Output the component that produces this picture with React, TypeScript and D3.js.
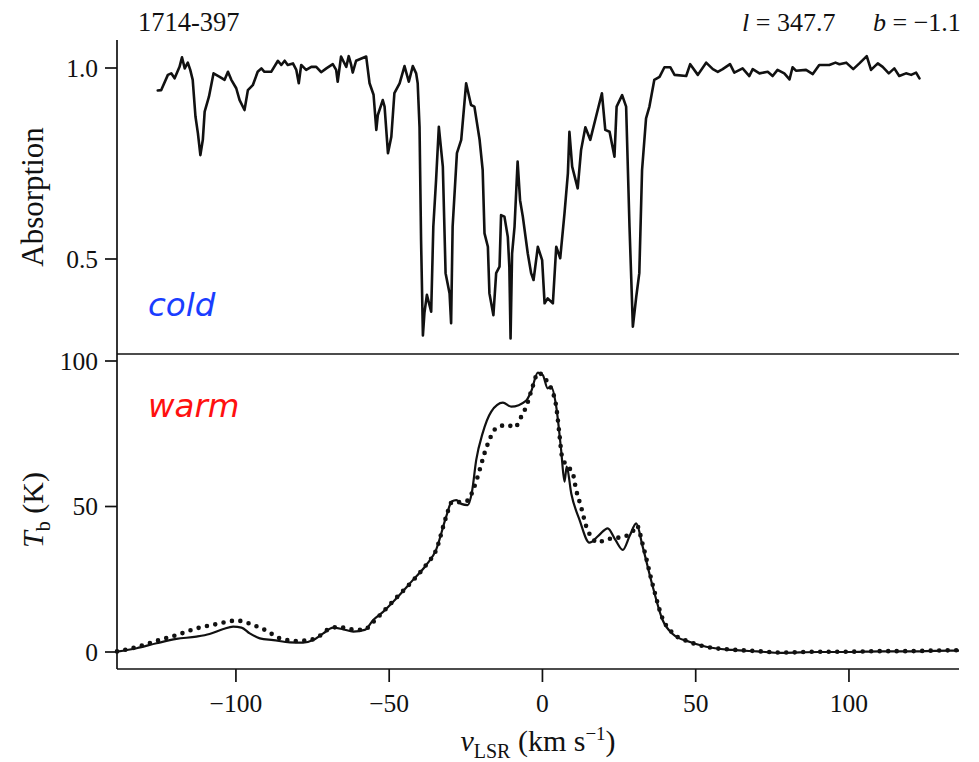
import React from "react";
import * as d3 from "d3";

// Absorption (cold gas) profile: [velocity km/s, absorption]
const absorptionProfile: [number, number][] = [
  [-125.5, 0.941], [-124.4, 0.942], [-122.2, 0.982], [-121.1, 0.986], [-120.0, 0.973],
  [-118.4, 1.003], [-117.6, 1.028], [-116.7, 0.999], [-115.7, 1.014], [-114.9, 0.995],
  [-114.1, 0.969], [-113.2, 0.873], [-112.4, 0.829], [-111.6, 0.772], [-110.8, 0.812],
  [-110.2, 0.886], [-108.8, 0.925], [-107.3, 0.986], [-105.3, 0.977], [-103.7, 0.969],
  [-102.6, 0.99], [-101.5, 0.969], [-99.9, 0.947], [-98.8, 0.916], [-97.2, 0.89],
  [-96.1, 0.942], [-94.5, 0.955], [-92.9, 0.99], [-91.7, 0.999], [-90.7, 0.99],
  [-88.5, 0.99], [-86.3, 1.019], [-85.2, 1.008], [-84.1, 1.019], [-83.1, 1.008],
  [-81.4, 1.012], [-80.3, 0.995], [-79.5, 0.96], [-78.7, 1.008], [-77.1, 0.995],
  [-75.4, 1.003], [-73.8, 1.003], [-72.2, 0.989], [-70.5, 0.999], [-68.4, 1.01],
  [-67.3, 0.995], [-66.8, 0.964], [-65.7, 1.03], [-64.9, 1.017], [-64.0, 1.003],
  [-63.2, 1.031], [-62.4, 1.008], [-61.9, 0.988], [-60.8, 1.019], [-57.5, 1.03],
  [-56.4, 0.96], [-55.1, 0.93], [-54.2, 0.838], [-53.7, 0.877], [-52.1, 0.916],
  [-51.5, 0.899], [-50.4, 0.777], [-49.3, 0.82], [-48.3, 0.934], [-46.6, 0.96],
  [-45.0, 1.005], [-43.6, 0.964], [-42.3, 1.005], [-41.2, 0.986], [-40.7, 0.96],
  [-40.1, 0.846], [-39.6, 0.55], [-39.0, 0.30], [-38.5, 0.359], [-37.7, 0.406],
  [-36.3, 0.362], [-35.6, 0.585], [-34.7, 0.707], [-33.8, 0.846], [-32.5, 0.742],
  [-31.6, 0.463], [-30.3, 0.41], [-29.8, 0.332], [-29.3, 0.585], [-27.9, 0.777],
  [-26.5, 0.812], [-24.9, 0.96], [-23.3, 0.903], [-22.2, 0.899], [-20.5, 0.812],
  [-19.5, 0.733], [-18.9, 0.567], [-17.8, 0.532], [-17.3, 0.41], [-16.0, 0.353],
  [-15.1, 0.463], [-14.0, 0.48], [-13.5, 0.615], [-12.4, 0.611], [-11.3, 0.558],
  [-10.8, 0.48], [-10.4, 0.292], [-9.9, 0.515], [-9.1, 0.585], [-8.1, 0.755],
  [-7.3, 0.654], [-6.4, 0.611], [-4.8, 0.515], [-3.7, 0.463], [-2.9, 0.445],
  [-1.5, 0.532], [-0.1, 0.497], [0.7, 0.384], [1.7, 0.397], [3.4, 0.384],
  [4.5, 0.532], [5.8, 0.502], [7.2, 0.62], [8.3, 0.724], [8.8, 0.833],
  [9.7, 0.742], [11.5, 0.685], [12.6, 0.785], [14.0, 0.845], [15.6, 0.812],
  [17.5, 0.873], [19.4, 0.934], [20.5, 0.838], [21.9, 0.833], [23.5, 0.768],
  [24.2, 0.899], [26.0, 0.929], [27.3, 0.899], [28.4, 0.585], [29.5, 0.323],
  [30.6, 0.401], [31.6, 0.463], [32.5, 0.733], [33.8, 0.868], [34.9, 0.899],
  [36.5, 0.969], [38.2, 0.977], [39.8, 1.002], [41.7, 1.002], [43.1, 0.982],
  [46.9, 0.979], [48.2, 1.01], [50.7, 0.982], [53.4, 1.014], [55.6, 0.997],
  [57.2, 0.99], [58.8, 0.997], [61.2, 1.01], [62.6, 0.988], [65.3, 0.999],
  [67.5, 0.979], [68.6, 0.997], [70.8, 0.986], [73.5, 0.99], [75.1, 0.979],
  [76.7, 0.995], [78.9, 0.986], [80.6, 0.97], [81.6, 1.002], [82.7, 0.993],
  [86.0, 0.995], [88.2, 0.984], [90.3, 1.008], [93.6, 1.008], [95.6, 1.014],
  [96.9, 1.01], [99.1, 1.014], [101.4, 0.997], [103.4, 1.012], [105.8, 1.031],
  [107.2, 0.995], [109.4, 1.012], [111.0, 1.003], [113.0, 0.986], [114.8, 0.999],
  [116.4, 0.979], [118.6, 0.986], [120.3, 0.982], [121.9, 0.988], [123.0, 0.973],
];

// Emission (warm gas) brightness temperature, observed (solid)
const emissionObserved: [number, number][] = [
  [-138.8, 0.1], [-132.4, 1.3], [-125.9, 3.0], [-119.4, 4.5], [-112.9, 5.3],
  [-108.6, 6.2], [-104.1, 7.9], [-100.9, 8.7], [-98.2, 8.4], [-95.5, 6.4],
  [-92.2, 4.7], [-87.8, 4.1], [-82.4, 3.3], [-78.1, 3.2], [-74.8, 4.1],
  [-71.5, 6.4], [-68.3, 8.4], [-65.0, 7.8], [-61.7, 7.0], [-58.0, 7.6],
  [-55.2, 11.0], [-52.0, 13.8], [-47.7, 18.4], [-42.3, 24.7], [-37.9, 29.9],
  [-34.7, 35.1], [-31.4, 46.5], [-29.6, 51.7], [-28.1, 52.2], [-26.5, 50.9],
  [-24.4, 50.5], [-23.0, 55.0], [-21.6, 66.0], [-19.5, 75.2], [-16.7, 82.6],
  [-12.9, 85.7], [-10.2, 84.3], [-5.3, 86.4], [-3.7, 89.5], [-1.5, 96.0],
  [0.1, 95.2], [1.7, 90.6], [2.8, 91.2], [4.5, 84.3], [6.1, 69.4],
  [7.2, 58.5], [7.9, 63.7], [9.4, 54.5], [12.1, 45.4], [15.3, 37.6],
  [18.3, 40.0], [21.3, 42.5], [23.8, 38.5], [26.2, 35.1], [28.5, 40.0],
  [30.6, 44.2], [32.7, 36.2], [36.0, 22.4], [39.2, 11.0], [42.5, 6.2],
  [47.9, 3.5], [53.4, 1.8], [62, 0.7], [70, 0.2], [78, -0.3],
  [90, 0.0], [100, 0.0], [110, 0.2], [120, 0.2], [128, 0.4], [135.9, 0.5],
];

// Emission comparison profile (dotted)
const emissionDotted: [number, number][] = [
  [-138.8, 0.2], [-132, 1.8], [-126, 3.8], [-119.4, 5.8], [-112.9, 8.1],
  [-106.3, 9.6], [-99.8, 10.8], [-94.4, 9.3], [-90.0, 7.3], [-85.7, 4.7],
  [-80.2, 3.8], [-75.9, 4.1], [-72, 6.0], [-69.4, 8.1], [-66, 8.6],
  [-62.8, 7.8], [-58.4, 7.6], [-55, 10.5], [-52, 13.8], [-47.7, 18.6],
  [-42.3, 24.5], [-37.9, 30.0], [-34.7, 35.0], [-31.4, 46.5], [-29.5, 51.5],
  [-27, 51.5], [-24.5, 52.0], [-22.5, 56.0], [-20.5, 62.5], [-18.9, 68.3],
  [-17.3, 72.9], [-15.7, 76.3], [-13.5, 77.7], [-11.3, 78.0], [-9.1, 77.1],
  [-6.9, 80.9], [-5.3, 84.3], [-3.2, 91.2], [-1.4, 96.0], [0.7, 94.1],
  [2.8, 90.6], [4.5, 84.3], [5.5, 75.2], [6.4, 67.1], [8.3, 63.7],
  [9.9, 61.4], [11.0, 55.7], [12.6, 49.9], [14.3, 43.1], [16, 39.5],
  [18.0, 37.6], [20.7, 38.7], [23, 39.0], [25.3, 39.4], [27.5, 40.0],
  [29.5, 41.5], [30.8, 43.5], [32.7, 37.0], [36, 23.0], [39.2, 11.5],
  [42.5, 6.5], [47.9, 3.5], [53.4, 1.8], [62, 0.8], [70, 0.3],
  [78, -0.2], [90, 0.1], [100, 0.1], [110, 0.3], [120, 0.3], [128, 0.5], [135.9, 0.6],
];

const xTicks = [-100, -50, 0, 50, 100];
const absTicks = [0.5, 1.0];
const tbTicks = [0, 50, 100];

const SERIF = "'Liberation Serif', 'Times New Roman', serif";
const SANS = "'DejaVu Sans', Verdana, sans-serif";
const INK = "#111";

export default function App() {
  const x = d3.scaleLinear().domain([-138.8, 135.9]).range([117, 959]);
  const yTop = d3.scaleLinear().domain([0.5, 1.0]).range([259, 68]);
  const yBot = d3.scaleLinear().domain([0, 100]).range([652, 361]);

  const absLine = d3
    .line<[number, number]>()
    .x((d) => x(d[0]))
    .y((d) => yTop(d[1]))
    .curve(d3.curveLinear);
  const tbLine = d3
    .line<[number, number]>()
    .x((d) => x(d[0]))
    .y((d) => yBot(d[1]))
    .curve(d3.curveMonotoneX);

  const left = x.range()[0];
  const right = x.range()[1];
  const dividerY = 354;
  const bottomY = 669;
  const fmtX = (v: number) => (v < 0 ? "\u2212" + Math.abs(v) : String(v));

  return (
    <svg
      width={979}
      height={762}
      style={{ position: "absolute", left: 0, top: 0, background: "#fff" }}
    >
      <rect x={0} y={0} width={979} height={762} fill="#fff" />
      {/* header texts */}
      <text x={138} y={31} fontFamily={SERIF} fontSize={26.5} fill={INK}>
        1714-397
      </text>
      <text x={742} y={31} fontFamily={SERIF} fontSize={26} fill={INK}>
        <tspan fontStyle="italic">l</tspan>
        <tspan> = 347.7</tspan>
      </text>
      <text x={873} y={31} fontFamily={SERIF} fontSize={26} fill={INK}>
        <tspan fontStyle="italic">b</tspan>
        <tspan> = {"\u2212"}1.1</tspan>
      </text>

      {/* axes frame */}
      <line x1={left} x2={left} y1={40} y2={bottomY} stroke={INK} strokeWidth={1.7} />
      <line x1={left} x2={right} y1={dividerY} y2={dividerY} stroke={INK} strokeWidth={1.7} />
      <line x1={left} x2={right} y1={bottomY} y2={bottomY} stroke={INK} strokeWidth={1.7} />

      {/* top y ticks */}
      {absTicks.map((t) => (
        <g key={"a" + t}>
          <line x1={left - 12} x2={left} y1={yTop(t)} y2={yTop(t)} stroke={INK} strokeWidth={1.7} />
          <text x={98} y={yTop(t)} dy="0.35em" textAnchor="end" fontFamily={SERIF} fontSize={25.5} fill={INK}>
            {d3.format(".1f")(t)}
          </text>
        </g>
      ))}
      {/* bottom y ticks */}
      {tbTicks.map((t) => (
        <g key={"b" + t}>
          <line x1={left - 12} x2={left} y1={yBot(t)} y2={yBot(t)} stroke={INK} strokeWidth={1.7} />
          <text x={98} y={yBot(t)} dy="0.35em" textAnchor="end" fontFamily={SERIF} fontSize={25.5} fill={INK}>
            {t}
          </text>
        </g>
      ))}
      {/* x ticks */}
      {xTicks.map((t) => (
        <g key={"x" + t}>
          <line x1={x(t)} x2={x(t)} y1={bottomY} y2={bottomY + 13} stroke={INK} strokeWidth={1.7} />
          <text x={x(t)} y={712} textAnchor="middle" fontFamily={SERIF} fontSize={25.5} fill={INK}>
            {fmtX(t)}
          </text>
        </g>
      ))}

      {/* axis titles */}
      <text x={538} y={751} textAnchor="middle" fontFamily={SERIF} fontSize={30} fill={INK}>
        <tspan fontStyle="italic">v</tspan>
        <tspan fontSize={20} dy={7}>LSR</tspan>
        <tspan dy={-7}> (km s</tspan>
        <tspan fontSize={19} dy={-11}>{"\u2212"}1</tspan>
        <tspan dy={11}>)</tspan>
      </text>
      <text
        transform="translate(43,197) rotate(-90)"
        textAnchor="middle"
        fontFamily={SERIF}
        fontSize={31}
        fill={INK}
      >
        Absorption
      </text>
      <text
        transform="translate(43,510) rotate(-90)"
        textAnchor="middle"
        fontFamily={SERIF}
        fontSize={30}
        fill={INK}
      >
        <tspan fontStyle="italic">T</tspan>
        <tspan fontSize={20} dy={7}>b</tspan>
        <tspan dy={-7}> (K)</tspan>
      </text>

      {/* data */}
      <path
        d={absLine(absorptionProfile) || ""}
        fill="none"
        stroke={INK}
        strokeWidth={2.6}
        strokeLinejoin="round"
        strokeLinecap="round"
      />
      <path
        d={tbLine(emissionObserved) || ""}
        fill="none"
        stroke={INK}
        strokeWidth={2.2}
        strokeLinejoin="round"
      />
      <path
        d={tbLine(emissionDotted) || ""}
        fill="none"
        stroke={INK}
        strokeWidth={4.6}
        strokeLinecap="round"
        strokeDasharray="0 8.5"
      />

      {/* labels */}
      <text x={148} y={316} fontFamily={SANS} fontStyle="italic" fontSize={32.5} fill="#1a3dff">
        cold
      </text>
      <text x={148} y={417} fontFamily={SANS} fontStyle="italic" fontSize={32.5} fill="#ff1010">
        warm
      </text>
    </svg>
  );
}
